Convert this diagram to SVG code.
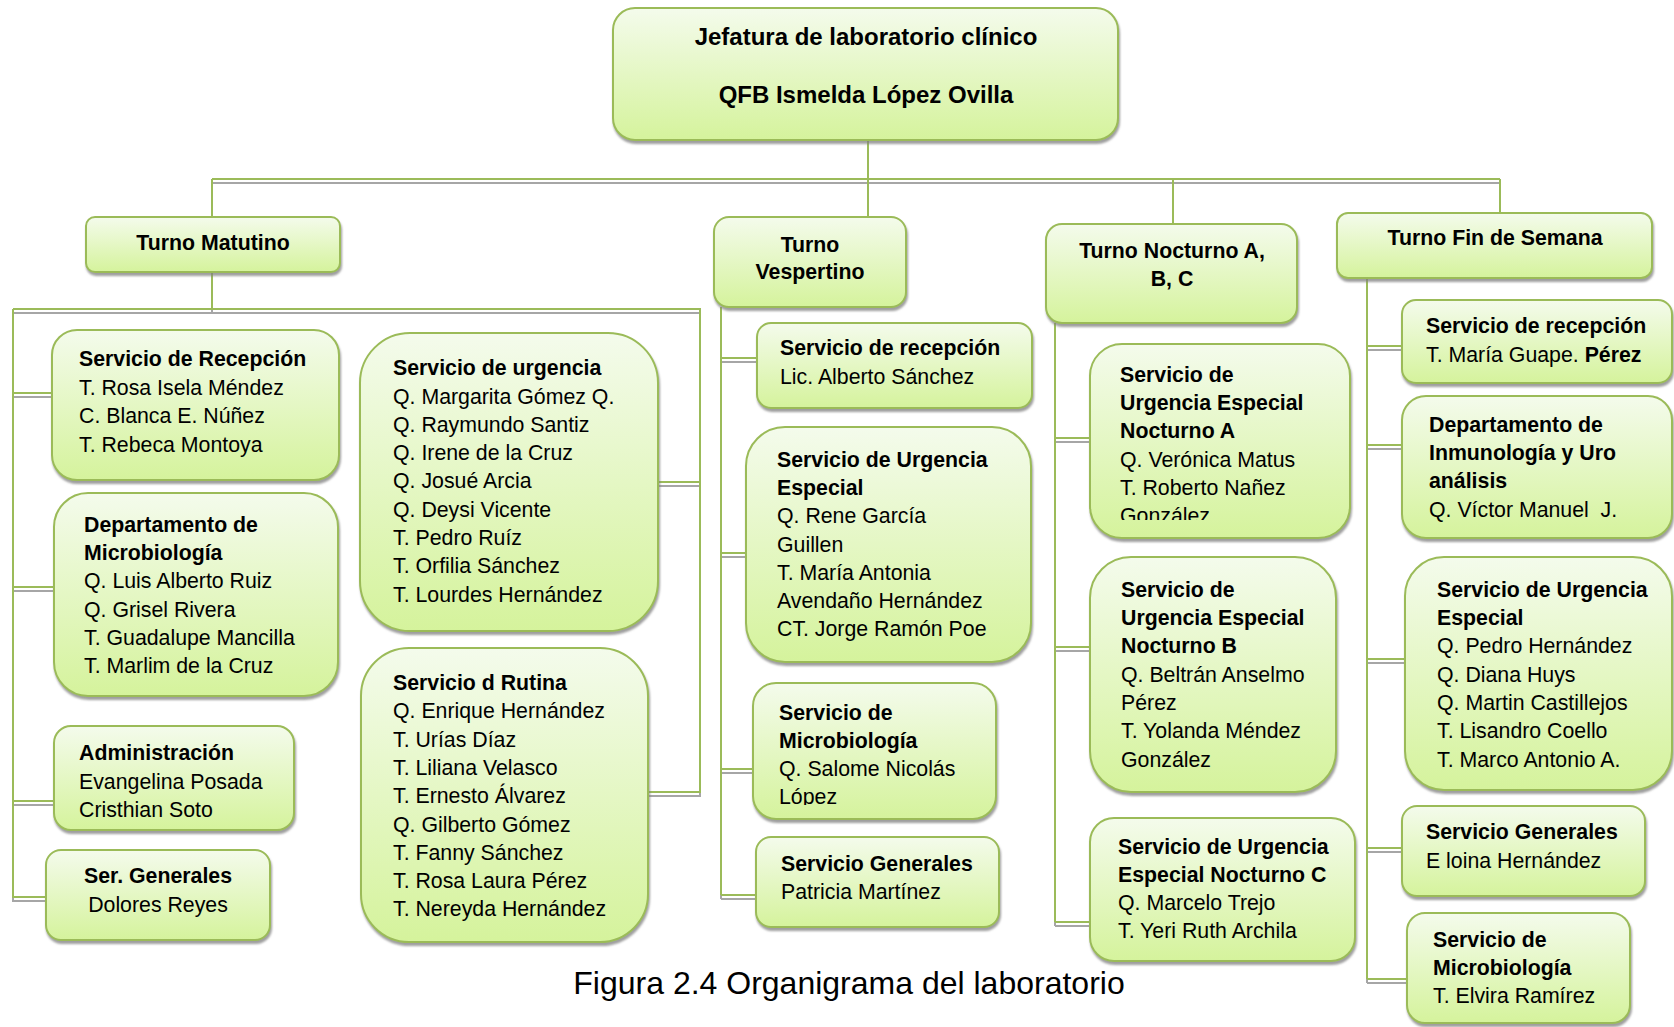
<svg xmlns="http://www.w3.org/2000/svg" width="1674" height="1027" viewBox="0 0 1674 1027">
<style>
.box{fill:url(#g);stroke:#9bbb59;stroke-width:2;filter:url(#sh)}
.t{font-family:"Liberation Sans",Arial,sans-serif;font-size:21.3px;fill:#000}
.b{font-weight:bold}
.m{text-anchor:middle}
.h{font-size:24px;font-weight:bold;text-anchor:middle}
.c{stroke:#9bbb59;stroke-width:2;fill:none}
.cs{stroke:#a6a6a6;stroke-width:2;fill:none}
.cap{font-family:"Liberation Sans",Arial,sans-serif;font-size:32px;fill:#000;text-anchor:middle}
</style>
<defs>
<linearGradient id="g" x1="0" y1="0" x2="0" y2="1">
<stop offset="0" stop-color="#f4fbec"/>
<stop offset="1" stop-color="#d5f39c"/>
</linearGradient>
<filter id="sh" x="-5%" y="-5%" width="115%" height="120%">
<feDropShadow dx="1" dy="3" stdDeviation="1" flood-color="#7f7f7f" flood-opacity="0.75"/>
</filter>
<clipPath id="clipVM"><rect x="753" y="683" width="243" height="122"/></clipPath>
<clipPath id="clipNA"><rect x="1090" y="344" width="260" height="176"/></clipPath>
</defs>
<rect width="1674" height="1027" fill="#fff"/>
<g id="connectors">
<path id="conn-shadow" class="cs" transform="translate(0,4)" d="M868,140V217M212,179H1500M212,179V217M1173,179V224M1500,179V213M212,272V309M13,309H701M13,309V898M13,393H52M13,587H54M13,801H54M13,897H46M700,309V793M658,482H700M648,792H700M721,307V895M721,358H757M721,553H746M721,769H753M721,895H756M1055,323V922M1055,438H1090M1055,647H1090M1055,922H1090M1367,278V979M1367,346H1402M1367,445H1402M1367,659H1405M1367,848H1402M1367,979H1407"/>
<path id="conn" class="c" d="M868,140V217M212,179H1500M212,179V217M1173,179V224M1500,179V213M212,272V309M13,309H701M13,309V898M13,393H52M13,587H54M13,801H54M13,897H46M700,309V793M658,482H700M648,792H700M721,307V895M721,358H757M721,553H746M721,769H753M721,895H756M1055,323V922M1055,438H1090M1055,647H1090M1055,922H1090M1367,278V979M1367,346H1402M1367,445H1402M1367,659H1405M1367,848H1402M1367,979H1407"/>
</g>
<g id="jefatura">
<rect class="box" x="613" y="8" width="505" height="132" rx="22"/>
<text class="t h" x="866" y="45">Jefatura de laboratorio clínico</text>
<text class="t h" x="866" y="103">QFB Ismelda López Ovilla</text>
</g>
<g id="turno-matutino">
<rect class="box" x="86" y="217" width="254" height="55" rx="9"/>
<text class="t b m" x="213" y="250">Turno Matutino</text>
</g>
<g id="turno-vespertino">
<rect class="box" x="714" y="217" width="192" height="90" rx="15"/>
<text class="t b m" x="810" y="252">Turno</text>
<text class="t b m" x="810" y="279">Vespertino</text>
</g>
<g id="turno-nocturno">
<rect class="box" x="1046" y="224" width="251" height="99" rx="16"/>
<text class="t b m" x="1172" y="258">Turno Nocturno A,</text>
<text class="t b m" x="1172" y="286">B, C</text>
</g>
<g id="turno-fin">
<rect class="box" x="1337" y="213" width="315" height="65" rx="11"/>
<text class="t b m" x="1495" y="245">Turno Fin de Semana</text>
</g>
<g id="m-recepcion">
<rect class="box" x="52" y="330" width="287" height="150" rx="25"/>
<text class="t b" x="79" y="366">Servicio de Recepción</text>
<text class="t" x="79" y="395">T. Rosa Isela Méndez</text>
<text class="t" x="79" y="423">C. Blanca E. Núñez</text>
<text class="t" x="79" y="452">T. Rebeca Montoya</text>
</g>
<g id="m-microbiologia">
<rect class="box" x="54" y="493" width="284" height="203" rx="34"/>
<text class="t b" x="84" y="532">Departamento de</text>
<text class="t b" x="84" y="560">Microbiología</text>
<text class="t" x="84" y="588">Q. Luis Alberto Ruiz</text>
<text class="t" x="84" y="617">Q. Grisel Rivera</text>
<text class="t" x="84" y="645">T. Guadalupe Mancilla</text>
<text class="t" x="84" y="673">T. Marlim de la Cruz</text>
</g>
<g id="m-administracion">
<rect class="box" x="54" y="726" width="240" height="104" rx="17"/>
<text class="t b" x="79" y="760">Administración</text>
<text class="t" x="79" y="789">Evangelina Posada</text>
<text class="t" x="79" y="817">Cristhian Soto</text>
</g>
<g id="m-generales">
<rect class="box" x="46" y="850" width="224" height="90" rx="15"/>
<text class="t b m" x="158" y="883">Ser. Generales</text>
<text class="t m" x="158" y="912">Dolores Reyes</text>
</g>
<g id="m-urgencia">
<rect class="box" x="360" y="333" width="298" height="298" rx="50"/>
<text class="t b" x="393" y="375">Servicio de urgencia</text>
<text class="t" x="393" y="404">Q. Margarita Gómez Q.</text>
<text class="t" x="393" y="432">Q. Raymundo Santiz</text>
<text class="t" x="393" y="460">Q. Irene de la Cruz</text>
<text class="t" x="393" y="488">Q. Josué Arcia</text>
<text class="t" x="393" y="517">Q. Deysi Vicente</text>
<text class="t" x="393" y="545">T. Pedro Ruíz</text>
<text class="t" x="393" y="573">T. Orfilia Sánchez</text>
<text class="t" x="393" y="602">T. Lourdes Hernández</text>
</g>
<g id="m-rutina">
<rect class="box" x="361" y="648" width="287" height="294" rx="48"/>
<text class="t b" x="393" y="690">Servicio d Rutina</text>
<text class="t" x="393" y="718">Q. Enrique Hernández</text>
<text class="t" x="393" y="747">T. Urías Díaz</text>
<text class="t" x="393" y="775">T. Liliana Velasco</text>
<text class="t" x="393" y="803">T. Ernesto Álvarez</text>
<text class="t" x="393" y="832">Q. Gilberto Gómez</text>
<text class="t" x="393" y="860">T. Fanny Sánchez</text>
<text class="t" x="393" y="888">T. Rosa Laura Pérez</text>
<text class="t" x="393" y="916">T. Nereyda Hernández</text>
</g>
<g id="v-recepcion">
<rect class="box" x="757" y="323" width="275" height="85" rx="14"/>
<text class="t b" x="780" y="355">Servicio de recepción</text>
<text class="t" x="780" y="384">Lic. Alberto Sánchez</text>
</g>
<g id="v-urgencia">
<rect class="box" x="746" y="427" width="285" height="235" rx="39"/>
<text class="t b" x="777" y="467">Servicio de Urgencia</text>
<text class="t b" x="777" y="495">Especial</text>
<text class="t" x="777" y="523">Q. Rene García</text>
<text class="t" x="777" y="552">Guillen</text>
<text class="t" x="777" y="580">T. María Antonia</text>
<text class="t" x="777" y="608">Avendaño Hernández</text>
<text class="t" x="777" y="636">CT. Jorge Ramón Poe</text>
</g>
<g id="v-microbiologia">
<rect class="box" x="753" y="683" width="243" height="136" rx="23"/>
<g clip-path="url(#clipVM)">
<text class="t b" x="779" y="720">Servicio de</text>
<text class="t b" x="779" y="748">Microbiología</text>
<text class="t" x="779" y="776">Q. Salome Nicolás</text>
<text class="t" x="779" y="804">López</text>
</g>
</g>
<g id="v-generales">
<rect class="box" x="756" y="837" width="243" height="90" rx="15"/>
<text class="t b" x="781" y="871">Servicio Generales</text>
<text class="t" x="781" y="899">Patricia Martínez</text>
</g>
<g id="n-a">
<rect class="box" x="1090" y="344" width="260" height="194" rx="32"/>
<g clip-path="url(#clipNA)">
<text class="t b" x="1120" y="382">Servicio de</text>
<text class="t b" x="1120" y="410">Urgencia Especial</text>
<text class="t b" x="1120" y="438">Nocturno A</text>
<text class="t" x="1120" y="467">Q. Verónica Matus</text>
<text class="t" x="1120" y="495">T. Roberto Nañez</text>
<text class="t" x="1120" y="523">González</text>
</g>
</g>
<g id="n-b">
<rect class="box" x="1090" y="557" width="246" height="235" rx="41"/>
<text class="t b" x="1121" y="597">Servicio de</text>
<text class="t b" x="1121" y="625">Urgencia Especial</text>
<text class="t b" x="1121" y="653">Nocturno B</text>
<text class="t" x="1121" y="682">Q. Beltrán Anselmo</text>
<text class="t" x="1121" y="710">Pérez</text>
<text class="t" x="1121" y="738">T. Yolanda Méndez</text>
<text class="t" x="1121" y="767">González</text>
</g>
<g id="n-c">
<rect class="box" x="1090" y="818" width="265" height="143" rx="24"/>
<text class="t b" x="1118" y="854">Servicio de Urgencia</text>
<text class="t b" x="1118" y="882">Especial Nocturno C</text>
<text class="t" x="1118" y="910">Q. Marcelo Trejo</text>
<text class="t" x="1118" y="938">T. Yeri Ruth Archila</text>
</g>
<g id="f-recepcion">
<rect class="box" x="1402" y="300" width="270" height="83" rx="14"/>
<text class="t b" x="1426" y="333">Servicio de recepción</text>
<text class="t" x="1426" y="362">T. María Guape. <tspan class="b">Pérez</tspan></text>
</g>
<g id="f-inmunologia">
<rect class="box" x="1402" y="396" width="270" height="142" rx="24"/>
<text class="t b" x="1429" y="432">Departamento de</text>
<text class="t b" x="1429" y="460">Inmunología y Uro</text>
<text class="t b" x="1429" y="488">análisis</text>
<text class="t" x="1429" y="517" xml:space="preserve">Q. Víctor Manuel  J.</text>
</g>
<g id="f-urgencia">
<rect class="box" x="1405" y="557" width="267" height="233" rx="39"/>
<text class="t b" x="1437" y="597">Servicio de Urgencia</text>
<text class="t b" x="1437" y="625">Especial</text>
<text class="t" x="1437" y="653">Q. Pedro Hernández</text>
<text class="t" x="1437" y="682">Q. Diana Huys</text>
<text class="t" x="1437" y="710">Q. Martin Castillejos</text>
<text class="t" x="1437" y="738">T. Lisandro Coello</text>
<text class="t" x="1437" y="767">T. Marco Antonio A.</text>
</g>
<g id="f-generales">
<rect class="box" x="1402" y="806" width="243" height="90" rx="15"/>
<text class="t b" x="1426" y="839">Servicio Generales</text>
<text class="t" x="1426" y="868">E loina Hernández</text>
</g>
<g id="f-microbiologia">
<rect class="box" x="1407" y="913" width="223" height="110" rx="18"/>
<text class="t b" x="1433" y="947">Servicio de</text>
<text class="t b" x="1433" y="975">Microbiología</text>
<text class="t" x="1433" y="1003">T. Elvira Ramírez</text>
</g>
<text id="caption" class="cap" x="849" y="994">Figura 2.4 Organigrama del laboratorio</text>
</svg>
